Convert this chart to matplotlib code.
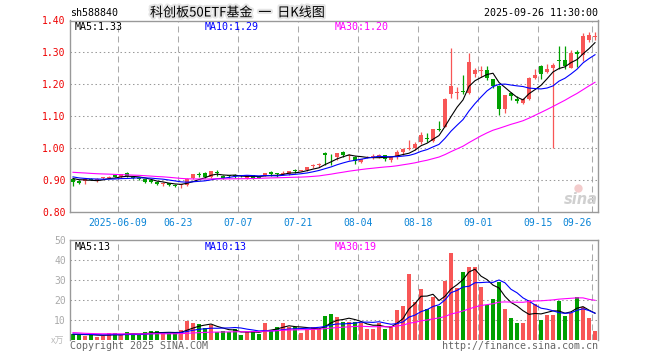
import matplotlib
matplotlib.use('Agg')
import matplotlib.pyplot as plt
import matplotlib.patheffects as pe
from matplotlib.lines import Line2D
import numpy as np

# ---------------- data ----------------
dates = ['05-27','05-28','05-29','05-30','06-03','06-04','06-05','06-06','06-09','06-10',
         '06-11','06-12','06-13','06-16','06-17','06-18','06-19','06-20','06-23','06-24',
         '06-25','06-26','06-27','06-30','07-01','07-02','07-03','07-04','07-07','07-08',
         '07-09','07-10','07-11','07-14','07-15','07-16','07-17','07-18','07-21','07-22',
         '07-23','07-24','07-25','07-28','07-29','07-30','07-31','08-01','08-04','08-05',
         '08-06','08-07','08-08','08-11','08-12','08-13','08-14','08-15','08-18','08-19',
         '08-20','08-21','08-22','08-25','08-26','08-27','08-28','08-29','09-01','09-02',
         '09-03','09-04','09-05','09-08','09-09','09-10','09-11','09-12','09-15','09-16',
         '09-17','09-18','09-19','09-22','09-23','09-24','09-25','09-26']

opens = [0.902,0.898,0.898,0.904,0.900,0.906,0.907,0.9156,0.910,0.922,
         0.910,0.907,0.902,0.900,0.895,0.8865,0.8896,0.886,0.884,0.885,
         0.905,0.919,0.923,0.910,0.923,0.914,0.913,0.914,0.913,0.905,
         0.9156,0.909,0.9135,0.924,0.919,0.920,0.918,0.929,0.930,0.931,
         0.944,0.948,0.986,0.976,0.971,0.9875,0.977,0.973,0.956,0.971,
         0.973,0.971,0.978,0.9625,0.971,0.9885,0.997,0.999,1.020,1.031,
         1.0229,1.059,1.0667,1.170,1.172,1.177,1.173,1.233,1.243,1.244,
         1.2156,1.195,1.124,1.173,1.155,1.1417,1.155,1.220,1.256,1.2375,
         1.251,1.276,1.275,1.252,1.301,1.2906,1.3375,1.349]
highs = [0.904,0.900,0.903,0.905,0.905,0.909,0.913,0.917,0.920,0.924,
         0.912,0.909,0.903,0.901,0.896,0.893,0.891,0.887,0.889,0.905,
         0.919,0.926,0.924,0.928,0.931,0.915,0.915,0.919,0.915,0.916,
         0.916,0.910,0.923,0.928,0.921,0.928,0.929,0.934,0.933,0.941,
         0.950,0.953,0.988,0.983,0.986,0.991,0.983,0.975,0.966,0.975,
         0.981,0.982,0.980,0.972,0.994,0.999,1.025,1.020,1.051,1.046,
         1.060,1.084,1.157,1.315,1.192,1.228,1.299,1.252,1.259,1.256,
         1.218,1.197,1.168,1.176,1.165,1.156,1.222,1.249,1.261,1.2646,
         1.266,1.320,1.320,1.309,1.309,1.360,1.3635,1.3635]
lows = [0.880,0.888,0.8875,0.899,0.895,0.904,0.906,0.909,0.908,0.910,
        0.903,0.901,0.892,0.890,0.884,0.882,0.881,0.878,0.876,0.883,
        0.904,0.911,0.905,0.905,0.914,0.904,0.908,0.905,0.909,0.904,
        0.903,0.905,0.912,0.9135,0.910,0.9156,0.917,0.921,0.928,0.930,
        0.9365,0.9417,0.947,0.947,0.9625,0.973,0.964,0.949,0.952,0.969,
        0.966,0.970,0.960,0.958,0.9646,0.978,0.994,0.994,1.0146,1.020,
        1.020,1.054,1.065,1.156,1.155,1.169,1.170,1.223,1.223,1.2125,
        1.190,1.103,1.110,1.150,1.140,1.139,1.152,1.218,1.218,1.235,
        0.999,1.249,1.249,1.250,1.254,1.273,1.332,1.3396]
closes = [0.895,0.890,0.902,0.900,0.904,0.907,0.911,0.910,0.918,0.9135,
          0.905,0.903,0.895,0.895,0.8865,0.8917,0.8844,0.882,0.8885,0.903,
          0.918,0.917,0.910,0.927,0.921,0.905,0.912,0.913,0.912,0.9156,
          0.908,0.907,0.923,0.919,0.918,0.921,0.928,0.928,0.931,0.9396,
          0.945,0.949,0.978,0.974,0.986,0.978,0.979,0.960,0.965,0.973,
          0.975,0.978,0.965,0.971,0.989,0.997,0.999,1.0125,1.0406,1.028,
          1.0594,1.057,1.155,1.195,1.174,1.175,1.269,1.244,1.245,1.221,
          1.195,1.124,1.166,1.165,1.148,1.154,1.220,1.230,1.233,1.249,
          1.2615,1.274,1.257,1.299,1.296,1.351,1.356,1.351]
volumes = [2.8,2.8,2.2,2.8,1.7,2.2,3.3,3.3,2.5,3.8,
           2.8,2.8,3.8,4.5,4.3,3.3,3.3,3.3,5.0,9.5,
           8.7,8.0,6.2,7.5,3.8,4.5,3.8,5.5,2.5,3.8,
           4.5,3.0,8.7,4.7,6.7,8.7,6.7,6.7,3.7,5.3,
           6.7,5.5,12.2,13.0,11.7,8.8,8.8,8.8,8.3,5.5,
           5.5,8.7,5.5,7.2,15.0,17.0,33.0,18.8,25.5,15.5,
           21.5,17.2,29.7,43.5,26.2,34.2,36.5,36.5,26.3,17.5,
           20.5,29.2,15.5,11.2,8.7,8.7,20.0,17.8,10.0,12.5,
           12.5,19.7,12.2,13.5,21.5,16.5,11.0,4.5]
# sessions before the visible window (estimated from where the MA lines start)
hist_close = [0.925,0.932,0.938,0.935,0.928,0.930,0.936,0.940,0.934,0.927,
              0.924,0.929,0.933,0.926,0.922,0.928,0.934,0.940,0.936,0.935,
              0.922,0.918,0.913,0.910,0.912,0.909,0.905,0.906,0.910]
hist_volume = [7.5,8.0,6.0,4.2,3.8,3.1,2.9,3.6,4.5,3.3,
               3.0,2.8,3.4,3.9,4.1,3.2,3.0,3.6,3.5,3.6,
               3.4,3.1,3.3,3.0,3.2,2.9,2.6,3.0,2.7]

tick_dates = ['06-09','06-23','07-07','07-21','08-04','08-18','09-01','09-15','09-26']
tick_labels = ['2025-06-09','06-23','07-07','07-21','08-04','08-18','09-01','09-15','09-26']
price_ticks = [0.80, 0.90, 1.00, 1.10, 1.20, 1.30, 1.40]
vol_ticks = [10, 20, 30, 40, 50]

# ---------------- style ----------------
RED = '#f85656'
GREEN = '#00a000'
SPINE = '#999999'
GRID = '#aaaaaa'
MONO = 'DejaVu Sans Mono'
W, H = 660, 360


def ma(hist, vals, n):
    s = np.array(list(hist) + list(vals), dtype=float)
    out = np.convolve(s, np.ones(n) / n, mode='valid')
    return out[-len(vals):]


fig = plt.figure(figsize=(6.6, 3.6), dpi=100)
fig.patch.set_facecolor('white')

ax = fig.add_axes([70 / W, 1 - 212 / H, 528 / W, 191.5 / H])
axv = fig.add_axes([70 / W, 1 - 340 / H, 528 / W, 100 / H])

n = len(closes)
x = np.arange(n)
o = np.array(opens); c = np.array(closes); hi = np.array(highs); lo = np.array(lows)
v = np.array(volumes)
up = c >= o
cols = [RED if u else GREEN for u in up]

tick_pos = [dates.index(d) - 0.5 for d in tick_dates]

for a in (ax, axv):
    a.set_xlim(-0.5, n - 0.5)
    for tp in tick_pos:
        a.axvline(tp, color=GRID, lw=0.75, ls=(0, (5.8, 3.8)), zorder=0)
    for s in ('left', 'top', 'right', 'bottom'):
        a.spines[s].set_color(SPINE)
        a.spines[s].set_linewidth(1.0)
    a.tick_params(length=0)

# price panel
ax.set_ylim(0.80, 1.40)
for yv in price_ticks[1:-1]:
    ax.axhline(yv, color=SPINE, lw=0.75, ls=(0, (1.4, 2.6)), zorder=0)

ax.vlines(x, lo, hi, colors=cols, lw=0.9, zorder=2)
body_h = np.maximum(np.abs(c - o), 0.0028)
body_b = np.minimum(o, c)
ax.bar(x, body_h, bottom=body_b, width=0.8, color=cols, linewidth=0, zorder=3)

ax.plot(x, ma(hist_close, closes, 5), color='black', lw=0.8, zorder=4)
ax.plot(x, ma(hist_close, closes, 10), color='#0000ff', lw=0.8, zorder=4)
ax.plot(x, ma(hist_close, closes, 30), color='#ff00ff', lw=0.8, zorder=4)

ax.set_yticks(price_ticks)
ax.set_yticklabels(['%.2f' % t for t in price_ticks], color='#ee0000',
                   fontsize=7, family=MONO)
ax.tick_params(axis='y', pad=3)
ax.set_xticks(tick_pos)
ax.set_xticklabels(tick_labels, color='#0a84d6', fontsize=7, family=MONO)
ax.tick_params(axis='x', pad=4)
ax.get_xticklabels()[-1].set_horizontalalignment('right')

# volume panel
axv.set_ylim(0, 50)
for yv in vol_ticks[:-1]:
    axv.axhline(yv, color=SPINE, lw=0.75, ls=(0, (1.4, 2.6)), zorder=0)
axv.bar(x, v, width=0.82, color=cols, linewidth=0, zorder=2)
axv.plot(x, ma(hist_volume, volumes, 5), color='black', lw=0.8, zorder=4)
axv.plot(x, ma(hist_volume, volumes, 10), color='#0000ff', lw=0.8, zorder=4)
axv.plot(x, ma(hist_volume, volumes, 30), color='#ff00ff', lw=0.8, zorder=4)
axv.set_yticks(vol_ticks)
axv.set_yticklabels([str(t) for t in vol_ticks], color='#aaaaaa', fontsize=7, family=MONO)
axv.tick_params(axis='y', pad=3)
axv.set_xticks([])
axv.spines['bottom'].set_visible(False)

# ---------------- texts ----------------
def ftext(px, py, s, **kw):
    fig.text(px / W, 1 - py / H, s, **kw)

ftext(70, 13.5, 'sh588840', ha='left', va='center', family=MONO, fontsize=7.2, color='black')
ftext(150, 13.0, '科创板50ETF基金  一  日K线图', ha='left', va='center',
      family=['Noto Sans CJK SC', 'DejaVu Sans'], fontsize=9.4, color='black',
      path_effects=[pe.withStroke(linewidth=3, foreground='#e6e6e6')])
ftext(598, 13.5, '2025-09-26 11:30:00', ha='right', va='center', family=MONO,
      fontsize=7.2, color='black')

ftext(75, 26.5, 'MA5:1.33', ha='left', va='center', family=MONO, fontsize=7.2, color='black')
ftext(205, 26.5, 'MA10:1.29', ha='left', va='center', family=MONO, fontsize=7.2, color='#0000ff')
ftext(335, 26.5, 'MA30:1.20', ha='left', va='center', family=MONO, fontsize=7.2, color='#ff00ff')

ftext(75, 246.5, 'MA5:13', ha='left', va='center', family=MONO, fontsize=7.2, color='black')
ftext(205, 246.5, 'MA10:13', ha='left', va='center', family=MONO, fontsize=7.2, color='#0000ff')
ftext(335, 246.5, 'MA30:19', ha='left', va='center', family=MONO, fontsize=7.2, color='#ff00ff')

ftext(70, 346, 'Copyright 2025 SINA.COM', ha='left', va='center', family=MONO,
      fontsize=7.2, color='#666666')
ftext(598, 346, 'http://finance.sina.com.cn', ha='right', va='center', family=MONO,
      fontsize=7.2, color='#666666')
ftext(64, 341, 'x万', ha='right', va='center', family=['Noto Sans CJK SC', 'DejaVu Sans'],
      fontsize=6.5, color='#bbbbbb')

# sina watermark (logo dot drawn as a marker, word as text)
ftext(581, 199, 'sina', ha='center', va='center', family='DejaVu Sans', fontsize=10.5,
      fontweight='bold', style='italic', color='#d0d0d0')
fig.add_artist(Line2D([578 / W], [1 - 188 / H], transform=fig.transFigure,
                      marker='o', markersize=5, color='#f3cccc', linestyle='none'))

fig.savefig('out.png', dpi=100, facecolor='white')
